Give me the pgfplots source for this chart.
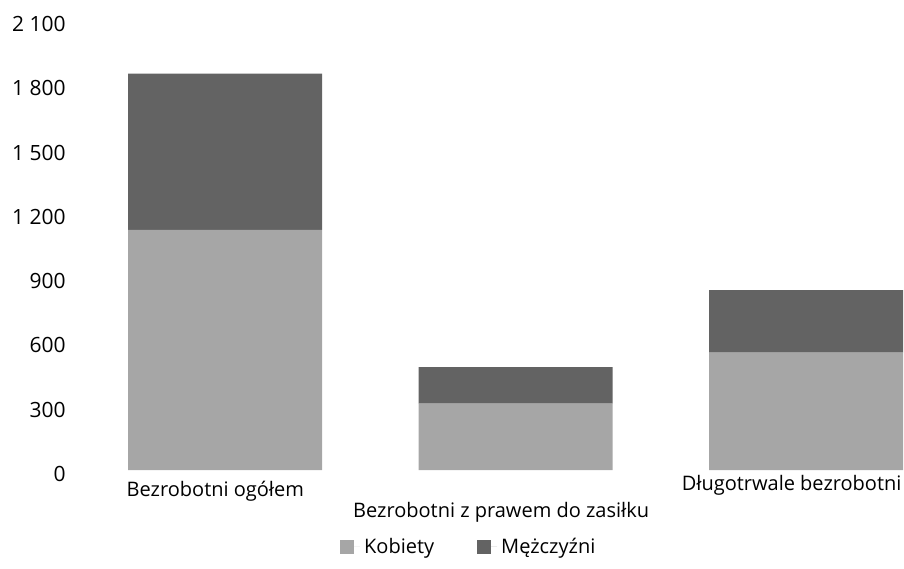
\documentclass[border=0pt]{standalone}
\usepackage{pgfplots}
\pgfplotsset{compat=1.18}
\usepackage{fontspec}
\setmainfont{Open Sans}
\definecolor{kob}{gray}{0.65}
\definecolor{mez}{gray}{0.39}
\begin{document}
\begin{tikzpicture}
\begin{axis}[
  at={(0,0)}, anchor=south west,
  scale only axis, width=412pt, height=225pt,
  xmin=-0.5, xmax=2.337, ymin=0, ymax=2100,
  axis line style={draw=none},
  major tick length=0pt,
  ytick={0,300,600,900,1200,1500,1800,2100},
  yticklabels={0,300,600,900,1 200,1 500,1 800,2 100},
  xtick=\empty,
  ybar stacked, bar width=0.668,
  clip=false,
  font=\fontsize{10}{12}\selectfont,
  yticklabel style={anchor=east, inner sep=0pt, xshift=-7pt, yshift=-2pt,
    font=\fontsize{10.5}{12}\selectfont},
  legend style={at={(0.473,-0.171)}, anchor=center, draw=none, fill=none,
    legend columns=2, font=\fontsize{10}{12}\selectfont,
    /tikz/every even column/.append style={column sep=19.5pt}},
]
\addplot[fill=kob, draw=none, legend image code/.code={\fill[kob] (0pt,-3.5pt) rectangle (7pt,3.5pt); \path (7pt,0pt) -- (10pt,0pt);}]
  coordinates {(0,1120) (1,310) (2,548)};
\addlegendentry{Kobiety}
\addplot[fill=mez, draw=none, legend image code/.code={\fill[mez] (0pt,-3.5pt) rectangle (7pt,3.5pt); \path (7pt,0pt) -- (10pt,0pt);}]
  coordinates {(0,730) (1,170) (2,292)};
\addlegendentry{Mężczyźni}
\node[anchor=center, yshift=-10.5pt] at (axis cs:-0.034,0) {Bezrobotni ogółem};
\node[anchor=center, yshift=-21pt] at (axis cs:0.950,0) {Bezrobotni z prawem do zasiłku};
\node[anchor=center, yshift=-7.5pt] at (axis cs:1.950,0) {Długotrwale bezrobotni};
\end{axis}
\pgfresetboundingbox
\path[use as bounding box] (-40pt,-49pt) rectangle (412pt,235pt);
\end{tikzpicture}
\end{document}
